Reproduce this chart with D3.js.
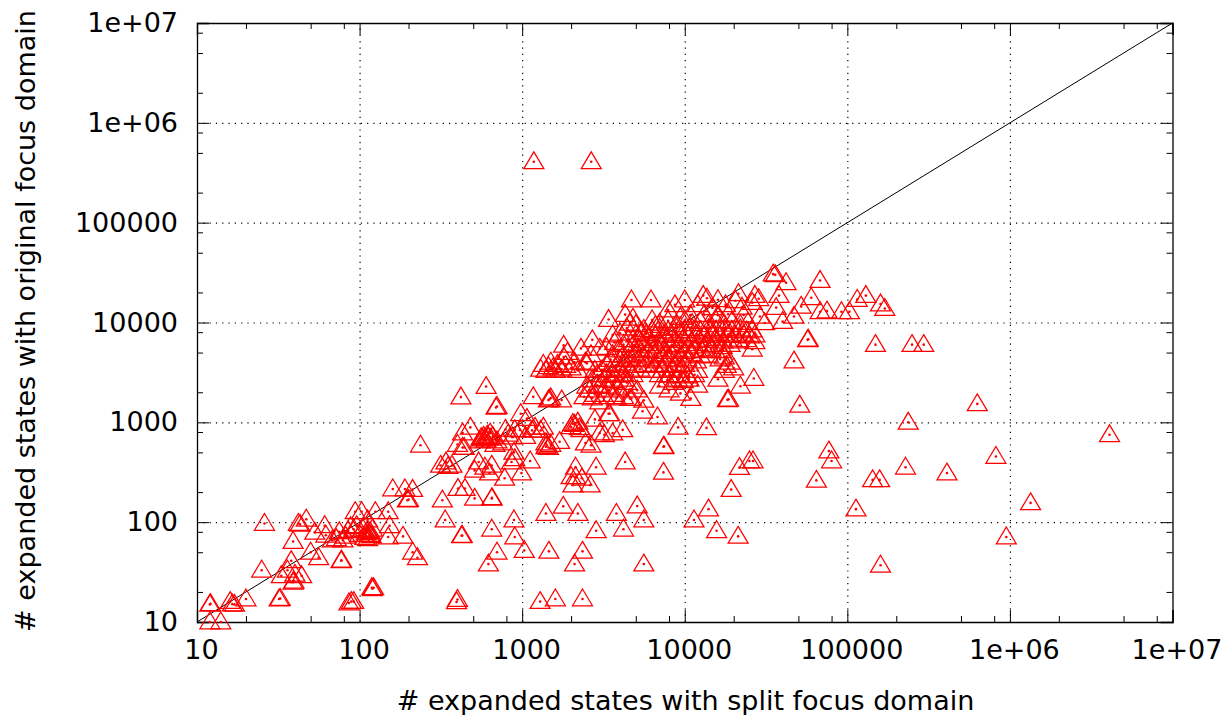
<!DOCTYPE html>
<html>
<head>
<meta charset="utf-8">
<script src="https://cdn.jsdelivr.net/npm/d3@7"></script>
<style>
    html, body { margin: 0; padding: 0; background: #fff; }
    text { font-family: "DejaVu Sans", sans-serif; fill: #000; }
</style>
</head>
<body>
<div id="chart"></div>
<script>
var tickValues = [10, 100, 1000, 10000, 100000, 1000000, 10000000];
var tickLabels = ["10", "100", "1000", "10000", "100000", "1e+06", "1e+07"];
var minorTicks = [20, 50, 80, 200, 500, 800, 2000, 5000, 8000, 20000, 50000, 80000,
    200000, 500000, 800000, 2000000, 5000000, 8000000];
var xTitle = "# expanded states with split focus domain";
var yTitle = "# expanded states with original focus domain";
var diagonal = [[10, 10], [10000000, 10000000]];

// [split, original]
var lowRuns = [[12,15],[12.1,15.2],[12,10],[14,10],[16,16],[17,15],[16.5,15.1],[20,17],[32,17],[32.5,17.2],
    [25,33],[26,97],[42,97],[43,95],[47,107],[53,79],[61,92],[62,74],[39,64],[50,50],[56,44],[77,41],[77.5,41.5],
    [38,41],[36,33],[33,29],[40,30],[44,29],[39,25],[39.5,25.5],[119,22],[122,22],[120,21.5],[89,16],[92,16],[86,15.5],
    [400,16.8],[395,15.9],[94,127],[103,127],[125,127],[150,127],[112,105],[153,92],[150,71],[185,72],[212,50],[227,44],
    [105,85],[110,78],[112,82],[115,75],[108,70],[118,73],[120,85],[100,75],[112,68],[116,80],
    [75,80],[82,72],[85,82],[88,90],[92,85],[96,92],[79,66],[72,68],[68,66],
    [160,215],[190,215],[212,212],[197,166],[200,168],[323,166],[336,105],[424,73],[428,73.5],[650,85],[650,173],[652,175],
    [510,173],[445,217],[403,217],[780,275],[237,590],[890,105],[900,71],[700,50],[620,38],[1030,52]];

var midRuns = [[420,1790],[600,2280],[690,1410],[700,1440],[1170,1800],[1450,1670],[1500,1750],[1470,1700],[1750,1670],
    [980,1220],[1070,1090],[790,850],[480,890],[400,600],[440,560],[340,400],[315,370],[350,360],[370,370],
    [510,330],[590,355],[650,370],[630,310],[540,400],[890,500],[900,430],[860,400],[990,310],[1120,410],
    [1400,570],[1450,560],[1500,600],[1400,620],[1420,590],[1700,640],[1300,830],[1350,890],[1050,720],[1150,830],
    [970,840],[1200,890],[900,840],[2050,970],[2100,950],[2200,1000],[2000,900],[2250,880],[2300,840],
    [2800,1070],[3000,780],[3200,750],[3600,780],[4150,840],[2450,620],[2650,590],[3400,1220],
    [430,780],[430,560],[560,700],[570,680],[580,720],[590,690],[600,660],[550,650],[610,740],[620,700],
    [635,780],[640,690],[660,720],[700,650],[870,710],[760,620],[820,760],[680,600]];

var lowerRightRuns = [[2130,355],[2850,355],[4300,400],[7400,570],[7450,575],[7400,315],[2000,285],[2130,285],[2330,275],
    [2050,235],[2620,235],[1400,122],[1790,144],[2200,122],[2850,82],[3800,122],[5100,145],[5600,105],[4200,85],
    [1460,51],[2350,51],[2100,38],[5600,38],[1290,16],[1600,17],[2350,17],[14000,135],[11400,105],[15700,82],[21300,72],
    [19300,212],[21700,352],[25000,410],[26300,410],[64500,262],[77000,515],[80000,410],[149000,6000],[250000,6000],
    [295000,6000],[630000,1530],[237000,1000],[4100000,750],[820000,455],[410000,310],[228000,355],[143000,265],
    [158000,265],[113000,135],[1340000,156],[950000,71],[160000,37],[57000,6700],[57500,6800],[51000,1480],[47000,4100]];

var upperRuns = [[1180,407000],[2660,407000],[36000,30000],[35000,30500],[42000,25000],[68000,26300],[60000,17700],
    [38000,18600],[36500,14100],[52000,14500],[47000,11500],[40000,10200],[31000,9900],[29000,11500],[27000,18600],
    [28500,17300],[21400,19400],[16000,16900],[13000,18600],[13700,17500],[4700,16800],[6200,16800],[3400,10700],
    [68000,12800],[75000,13000],[92000,12800],[103000,12800],[115000,17000],[130000,18600],[160000,15300],[170000,13800],
    [26600,2750],[22000,2300],[18300,1680],[18600,1700],[16000,2700],[12000,2350],[10900,1730],[9400,1950],[6800,1130],
    [9100,890],[13600,880],[5500,1290],[4700,1730],[5600,1660],[3450,1220]];

var denseRuns = [[10800,11900],[13200,12000],[16000,11800],[18500,12100],[23000,11900],
    [7900,13300],[8700,15000],[10000,16800],[12000,15000],[14800,14000],[17800,15000],[22500,14200],[20500,16500],[26000,15800],
    [6300,10600],[7000,9800],[7900,10400],[8900,9500],[10000,10500],[11100,9700],[12500,10200],[14000,9500],[15600,10400],
    [17500,9600],[19500,10200],[22000,9500],[24500,10000],[6600,9300],[9400,11200],
    [5600,8500],[6300,8300],[7000,8700],[7900,8200],[8900,8800],[10000,8300],[11100,8700],[12500,8200],[14000,8600],
    [15600,8200],[17500,8600],[19500,8300],[22000,8600],[24000,8200],[26000,8400],
    [5000,7500],[5800,7700],[6600,7300],[7500,7600],[8400,7400],[9400,7700],[10500,7300],[11800,7600],[13200,7400],
    [14800,7700],[16500,7400],[18500,7600],[20500,7400],[23000,7600],[25000,7300],[27000,7500],
    [4500,6700],[5300,6600],[6000,6900],[6900,6500],[7700,6800],[8600,6600],[9800,6900],[11000,6500],[12200,6800],
    [13800,6600],[15500,6900],[17200,6500],[19500,6800],[21500,6500],[24000,6700],[27000,6400],
    [4200,6000],[4800,5900],[5500,6100],[6200,5800],[7200,6100],[8200,5800],[9200,6000],[10500,5800],[12000,6100],
    [13500,5800],[15200,6000],[17000,5700],[19000,6000],[26000,5400],
    [3900,5300],[4600,5200],[5200,5400],[6000,5200],[6800,5400],[7600,5100],[8800,5300],[10000,5100],[11500,5300],
    [12800,5200],[14500,5400],[16800,5200],
    [3600,4750],[4200,4700],[4900,4800],[5600,4600],[6500,4800],[7300,4600],[8300,4800],[9500,4600],[11000,4800],
    [12500,4600],[14000,4700],[17500,4500],
    [3500,4250],[4000,4200],[4500,4300],[5200,4200],[6000,4300],[6900,4100],[7800,4300],[9000,4200],[10300,4300],
    [11800,4100],[16500,4300],[19000,4000],
    [3300,3800],[3800,3700],[4300,3900],[4900,3700],[5700,3800],[6500,3700],[7500,3800],[8800,3700],[10000,3800],
    [18000,3700],[20000,3500],
    [3100,3350],[3500,3300],[4000,3400],[4600,3300],[5300,3400],[6200,3300],[7300,3300],[8300,3400],[9400,3300],
    [12000,3300],[17500,3300],
    [2900,3000],[3300,3000],[3700,2950],[4200,3050],[4800,3000],[7000,3000],[8000,2950],[9200,3000],[10400,2900],[11500,3000],
    [2700,2650],[3200,2700],[3600,2600],[4100,2700],[7800,2650],[9000,2700],[9800,2600],[10600,2700],
    [2500,2300],[2900,2350],[3300,2300],[7000,2300],[8000,2100],[8500,2500]];

var shoulderRuns = [[1300,3400],[1350,3800],[1400,3300],[1450,3600],[1500,4000],[1550,3500],[1600,3300],[1650,3800],
    [1750,3400],[1800,4500],[1850,3700],[1800,5900],[1900,5000],[2000,3500],[2100,4000],[2300,5500],[2200,3300],
    [2450,4000],[2500,3900],[2650,4750],[2700,6700],[2800,3300],[3000,5500],
    [3300,5600],[3700,6300],[4000,7800],[4400,8800],[4600,9800],[4300,12000],[4800,11000],[5000,9500],[5400,8000],[3600,7500],
    [2600,2100],[2800,1900],[3000,2300],[3200,1800],[3400,2100],[3600,1900],[2700,1750],[2400,1800],[3900,2200],
    [3800,1750],[3000,1600],[4200,1800],[4400,2500],[4800,2300],[5100,2100],[4600,1730]];

var runs = lowRuns.concat(midRuns, lowerRightRuns, upperRuns, denseRuns, shoulderRuns);

var width = 1223, height = 715;
var margin = { top: 23, right: 50.5, bottom: 93, left: 197 };
var plotW = width - margin.left - margin.right;
var plotH = height - margin.top - margin.bottom;

var x = d3.scaleLog().domain([10, 10000000]).range([0, plotW]);
var y = d3.scaleLog().domain([10, 10000000]).range([plotH, 0]);

var svg = d3.select("#chart").append("svg")
    .attr("width", width)
    .attr("height", height)
    .style("display", "block");

var g = svg.append("g")
    .attr("transform", "translate(" + margin.left + "," + margin.top + ")");

// Dotted grid
g.append("g").attr("class", "grid")
    .attr("transform", "translate(0," + plotH + ")")
    .call(d3.axisBottom(x).tickValues(tickValues.slice(1, -1)).tickSize(-plotH).tickFormat(""));
g.append("g").attr("class", "grid")
    .call(d3.axisLeft(y).tickValues(tickValues.slice(1, -1)).tickSize(-plotW).tickFormat(""));
g.selectAll(".grid .domain").remove();
g.selectAll(".grid line")
    .attr("stroke", "#000")
    .attr("stroke-width", 1.2)
    .attr("stroke-dasharray", "1.2 5.1");

// Frame ticks: every side gets the long decade ticks and the short 2,5,8 ones
function ticks(axisFn, scale, values, size) {
    return axisFn(scale).tickValues(values).tickSize(size).tickFormat("");
}
var bottom = "translate(0," + plotH + ")", right = "translate(" + plotW + ",0)";
[
    [d3.axisBottom, x, bottom],
    [d3.axisTop, x, null],
    [d3.axisLeft, y, null],
    [d3.axisRight, y, right]
].forEach(function (side) {
    g.append("g").attr("class", "frame").attr("transform", side[2])
        .call(ticks(side[0], side[1], tickValues, -12));
    var minor = g.append("g").attr("class", "frame").attr("transform", side[2])
        .call(ticks(side[0], side[1], minorTicks, -6));
    minor.select(".domain").remove();
});
g.selectAll(".frame .domain").attr("stroke", "#000").attr("stroke-width", 1.3);
g.selectAll(".frame line").attr("stroke", "#000").attr("stroke-width", 1);

// Tick labels
var xLabels = g.append("g")
    .attr("transform", bottom)
    .call(d3.axisBottom(x).tickValues(tickValues).tickSize(0).tickPadding(18)
        .tickFormat(function (d, i) { return tickLabels[i]; }));
var yLabels = g.append("g")
    .call(d3.axisLeft(y).tickValues(tickValues).tickSize(0).tickPadding(19)
        .tickFormat(function (d, i) { return tickLabels[i]; }));
[xLabels, yLabels].forEach(function (a) {
    a.select(".domain").remove();
    a.selectAll("text").style("font-family", '"DejaVu Sans", sans-serif').style("font-size", "27px").attr("fill", "#000");
});
xLabels.selectAll("text").attr("dx", 4);

// y = x reference
var line = d3.line()
    .x(function (d) { return x(d[0]); })
    .y(function (d) { return y(d[1]); });
g.append("path")
    .datum(diagonal)
    .attr("d", line)
    .attr("fill", "none")
    .attr("stroke", "#000")
    .attr("stroke-width", 1);

// Points: open triangle with a dot at the exact value
var triangle = {
    draw: function (context) {
        context.moveTo(0, -10);
        context.lineTo(10, 6.8);
        context.lineTo(-10, 6.8);
        context.closePath();
    }
};
var marks = g.append("g").selectAll("g")
    .data(runs)
    .join("g")
    .attr("transform", function (d) { return "translate(" + x(d[0]) + "," + y(d[1]) + ")"; });
marks.append("path")
    .attr("d", d3.symbol().type(triangle))
    .attr("fill", "none")
    .attr("stroke", "#ff0000")
    .attr("stroke-width", 1.25);
marks.append("circle")
    .attr("r", 1.3)
    .attr("fill", "#ff0000");

// Axis titles
svg.append("text")
    .attr("x", 685.5)
    .attr("y", 710)
    .attr("text-anchor", "middle")
    .style("font-size", "27px")
    .text(xTitle);
svg.append("text")
    .attr("transform", "translate(35,321) rotate(-90)")
    .attr("text-anchor", "middle")
    .style("font-size", "27px")
    .text(yTitle);
</script>
</body>
</html>
